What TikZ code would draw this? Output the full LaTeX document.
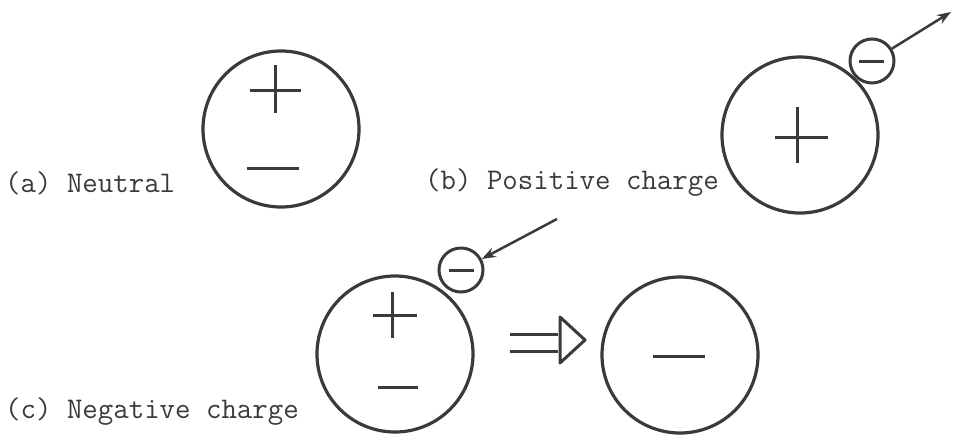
\documentclass[tikz,border=0pt]{standalone}
\usepackage{fontspec}
\usetikzlibrary{arrows.meta}
\definecolor{ink}{HTML}{3A3A3A}
\tikzset{
  atom/.style={circle,draw=ink,line width=3.2pt,minimum size=156pt,inner sep=0pt},
  electron/.style={circle,draw=ink,line width=3pt,minimum size=44pt,inner sep=0pt},
  sign/.style={draw=ink,line width=3pt},
  lbl/.style={anchor=west,text=ink,font=\ttfamily\fontsize{30}{34}\selectfont,inner sep=0pt}
}
\begin{document}
\begin{tikzpicture}[x=1pt,y=-1pt,>={Stealth[length=14pt,width=10pt]}]
\useasboundingbox (0,0) rectangle (953,436);
% (a) neutral
\node[atom] (na) at (281,129) {};
\draw[sign] (250,90) -- (301,90);
\draw[sign] (275,65) -- (275,113);
\draw[sign] (247,168) -- (299,168);
\node[lbl] (la) at (5,183) {(a) Neutral};
% (b) positive
\node[atom] (pb) at (800,135) {};
\draw[sign] (775,137) -- (828,137);
\draw[sign] (797,107) -- (797,163);
\node[electron] (eb) at (872,61) {};
\draw[sign] (859,62) -- (884,62);
\coordinate (ob) at (951,12);
\draw[->,ink,line width=2.5pt] (eb) -- (ob);
\node[lbl] (lb) at (425,183) {(b) Positive charge};
% (c) negative
\node[atom] (nc) at (395,354) {};
\draw[sign] (373,315) -- (417,315);
\draw[sign] (392,292) -- (392,338);
\draw[sign] (378,387) -- (418,387);
\node[electron] (ec) at (461,270) {};
\draw[sign] (449,270) -- (474,270);
\coordinate (ic) at (557,219);
\draw[->,ink,line width=2.5pt] (ic) -- (ec);
\node[atom] (rc) at (680,355) {};
\draw[sign] (653,356) -- (705,356);
\draw[sign] (510,334) -- (558,334);
\draw[sign] (510,351) -- (558,351);
\draw[sign,line join=round] (560,317) -- (585,340) -- (560,363) -- cycle;
\node[lbl] (lc) at (5,412) {(c) Negative charge};
\end{tikzpicture}
\end{document}
